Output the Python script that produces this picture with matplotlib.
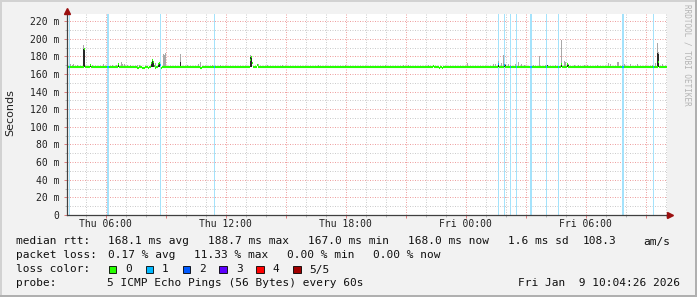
import numpy as np
import matplotlib
matplotlib.use("Agg")
import matplotlib.pyplot as plt
import matplotlib.dates as mdates
from matplotlib.lines import Line2D
from matplotlib.patches import Rectangle
from matplotlib.ticker import MultipleLocator, FuncFormatter

# time base: one column per 3 minutes, 30 hours ending Fri Jan 9 10:04:26 2026
start = np.datetime64("2026-01-08T04:04:26")
n_slots = 600
slot_minutes = 3

# median rtt (ms) where it differs from the flat baseline
median_base = 168.0
median_slots = [17, 23, 51, 70, 71, 75, 76, 77, 81, 84, 85, 86, 87, 88, 91, 92, 93, 94,
                133, 134, 183, 184, 185, 190, 366, 372, 375, 431, 437, 494, 500, 591]
median_vals = [188.7, 170.5, 171.0, 167.0, 167.0, 167.0, 167.0, 167.0, 167.0, 172.0, 175.5,
               173.0, 169.0, 167.0, 171.0, 172.7, 170.0, 167.0, 167.0, 167.0, 176.0, 178.7,
               172.0, 170.5, 169.5, 167.2, 167.2, 171.0, 170.0, 171.0, 171.5, 173.8]

# smoke: highest ping per column (light grey)
smoke_slots = [3, 5, 6, 10, 16, 17, 25, 36, 45, 49, 54, 55, 57, 60, 63, 70, 72, 85, 88, 96,
               97, 98, 113, 120, 131, 133, 145, 153, 183, 184, 191, 200, 215, 251, 278, 318,
               336, 341, 361, 366, 400, 426, 428, 431, 434, 436, 438, 441, 443, 448, 451, 454,
               457, 466, 472, 478, 488, 494, 497, 498, 501, 507, 511, 517, 520, 530, 541, 543,
               550, 551, 555, 557, 563, 570, 585, 588, 590, 591, 595]
smoke_max = [171.0, 170.5, 171.0, 170.5, 192.7, 190.0, 170.5, 171.0, 170.0, 170.5, 173.0,
             171.5, 171.0, 170.5, 170.5, 170.5, 170.5, 177.0, 172.0, 183.0, 182.0, 183.5,
             182.5, 170.5, 171.0, 173.0, 170.5, 170.5, 181.5, 180.0, 171.0, 170.5, 170.5,
             170.5, 170.5, 170.5, 170.5, 170.5, 170.5, 170.5, 172.7, 171.0, 171.0, 174.6,
             172.0, 181.0, 171.0, 171.0, 170.5, 171.0, 173.8, 171.0, 170.5, 170.5, 180.6,
             170.5, 170.5, 198.4, 174.6, 174.0, 171.0, 170.5, 170.5, 170.5, 170.5, 170.5,
             172.8, 171.0, 174.0, 173.0, 170.5, 171.0, 171.0, 171.0, 170.5, 172.0, 194.6,
             185.0, 171.0]

# smoke: inner pings (dark)
dark_slots = [16, 17, 23, 51, 84, 85, 86, 91, 92, 113, 183, 184, 366, 431, 437, 438, 480,
              494, 500, 501, 590, 591]
dark_top = [188.0, 188.7, 171.0, 172.0, 172.0, 175.5, 173.5, 172.5, 173.0, 173.0, 179.5,
            179.0, 170.0, 171.5, 171.5, 170.5, 170.5, 172.5, 172.0, 170.5, 184.0, 183.0]

# columns with 1/5 packet loss
loss_slots = [2, 40, 41, 93, 147, 431, 437, 443, 449, 463, 464, 479, 491, 555, 556, 586]

loss_names = ["0", "1", "2", "3", "4", "5/5"]
loss_colors = ["#26ff00", "#00b8ff", "#0059ff", "#5e00ff", "#ff0000", "#a00000"]

stats_rtt = ["168.1 ms avg", "188.7 ms max", "167.0 ms min", "168.0 ms now", "1.6 ms sd",
             "108.3", "am/s"]
stats_loss = ["0.17 % avg", "11.33 % max", "0.00 % min", "0.00 % now"]

W, H = 697, 297
MONO = "DejaVu Sans Mono"


def fx(x):
    return x / W


def fy(y):
    return 1 - y / H


def main():
    times = start + np.arange(n_slots) * np.timedelta64(slot_minutes, "m")
    x = mdates.date2num(times.astype("datetime64[s]").astype(object))
    dx = slot_minutes / 1440.0
    x_end = x[-1] + dx

    med = np.full(n_slots, median_base)
    med[median_slots] = median_vals

    fig = plt.figure(figsize=(W / 100, H / 100), dpi=100)
    fig.patch.set_facecolor("#f2f2f2")

    # 3d-ish frame
    fig.add_artist(Rectangle((0, fy(2)), 1, 2 / H, transform=fig.transFigure,
                             color="#d2d2d2", lw=0))
    fig.add_artist(Rectangle((0, 0), 2 / W, 1, transform=fig.transFigure,
                             color="#d2d2d2", lw=0))
    fig.add_artist(Rectangle((0, 0), 1, 2 / H, transform=fig.transFigure,
                             color="#b0b0b0", lw=0))
    fig.add_artist(Rectangle((1 - 2 / W, 0), 2 / W, 1, transform=fig.transFigure,
                             color="#b0b0b0", lw=0))

    ax = fig.add_axes([fx(67), fy(215), fx(667) - fx(67), (215 - 14) / H])
    ax.set_facecolor("white")
    ax.set_xlim(x[0], x_end)
    ax.set_ylim(0, 228)
    for s in ax.spines.values():
        s.set_visible(False)

    # grid
    ax.yaxis.set_major_locator(MultipleLocator(20))
    ax.yaxis.set_minor_locator(MultipleLocator(10))
    ax.xaxis.set_major_locator(mdates.HourLocator(byhour=range(0, 24, 3)))
    ax.xaxis.set_minor_locator(mdates.HourLocator())
    ax.grid(which="minor", color="#cccccc", lw=0.72, ls=(0, (1, 1.5)))
    ax.grid(which="major", color="#eea0a0", lw=0.72, ls=(0, (1, 1.5)))
    ax.set_axisbelow(True)

    def xfmt(v, pos):
        d = mdates.num2date(v)
        return d.strftime("%a %H:%M") if d.hour % 6 == 0 else ""

    def yfmt(v, pos):
        return "0" if v == 0 else f"{int(round(v))} m"

    ax.xaxis.set_major_formatter(FuncFormatter(xfmt))
    ax.yaxis.set_major_formatter(FuncFormatter(yfmt))
    ax.tick_params(which="major", length=2, width=0.72, color="#e08080", labelsize=7)
    ax.tick_params(axis="x", which="major", pad=1.2)
    ax.tick_params(axis="y", which="major", pad=3.5)
    ax.tick_params(which="minor", length=1.5, width=0.72, color="#bbbbbb")
    for lab in ax.get_xticklabels() + ax.get_yticklabels():
        lab.set_fontfamily(MONO)
        lab.set_color("#202020")

    # loss background
    ax.bar(x[loss_slots], 228, width=dx, bottom=0, align="edge", color="#a4e2fb",
           lw=0, zorder=1)

    # smoke
    ax.bar(x[smoke_slots], np.array(smoke_max) - median_base, width=dx,
           bottom=median_base, align="edge", color="#a8a8a8", lw=0, zorder=2)
    ax.bar(x[dark_slots], np.array(dark_top) - median_base, width=dx,
           bottom=median_base, align="edge", color="#262626", lw=0, zorder=3)

    # median line, coloured by loss
    cols = [loss_colors[0]] * n_slots
    for i in loss_slots:
        cols[i] = loss_colors[1]
    ax.hlines(med, x, x + dx, colors=cols, lw=1.5, zorder=4, capstyle="butt")

    # axis lines with arrows
    fig.add_artist(Line2D([fx(67), fx(670)], [fy(215), fy(215)], color="#404040",
                          lw=0.9, transform=fig.transFigure))
    fig.add_artist(Line2D([fx(67), fx(67)], [fy(215), fy(11)], color="#404040",
                          lw=0.9, transform=fig.transFigure))
    fig.add_artist(Line2D([fx(670)], [fy(215)], marker=">", ms=4.5, color="#9b1010",
                          transform=fig.transFigure, lw=0))
    fig.add_artist(Line2D([fx(67)], [fy(10.5)], marker="^", ms=4.5, color="#9b1010",
                          transform=fig.transFigure, lw=0))

    fig.text(fx(10), fy(113), "Seconds", rotation=90, ha="center", va="center",
             fontsize=8, color="#202020")
    fig.text(fx(687), fy(4), "RRDTOOL / TOBI OETIKER", rotation=270, ha="center",
             va="top", fontsize=5.5, family=MONO, color="#b4b4b4")

    # legend block
    def t(xp, yp, s, **kw):
        fig.text(fx(xp), fy(yp), s, fontsize=8, family=MONO, va="center",
                 color="#101010", **kw)

    t(16, 241.5, "median rtt:")
    for xp, s in zip([107.6, 207.6, 307.6, 407.6, 507.6, 583.0, 643.1], stats_rtt):
        t(xp, 241.5, s)
    t(16, 255.5, "packet loss:")
    for xp, s in zip([107.6, 194.0, 287.0, 373.0], stats_loss):
        t(xp, 255.5, s)
    t(16, 269.5, "loss color:")
    for k, (name, c) in enumerate(zip(loss_names, loss_colors)):
        sx = 108.7 + k * 36.9
        fig.add_artist(Rectangle((fx(sx), fy(273.3)), 7.5 / W, 7.5 / H,
                                 transform=fig.transFigure, facecolor=c,
                                 edgecolor="black", lw=0.6))
        t(sx + 16.5, 269.5, name)
    t(16, 283, "probe:")
    t(107.3, 283, "5 ICMP Echo Pings (56 Bytes) every 60s")
    t(680, 283, "Fri Jan  9 10:04:26 2026", ha="right")

    fig.savefig("out.png", dpi=100, facecolor=fig.get_facecolor())


if __name__ == "__main__":
    main()
